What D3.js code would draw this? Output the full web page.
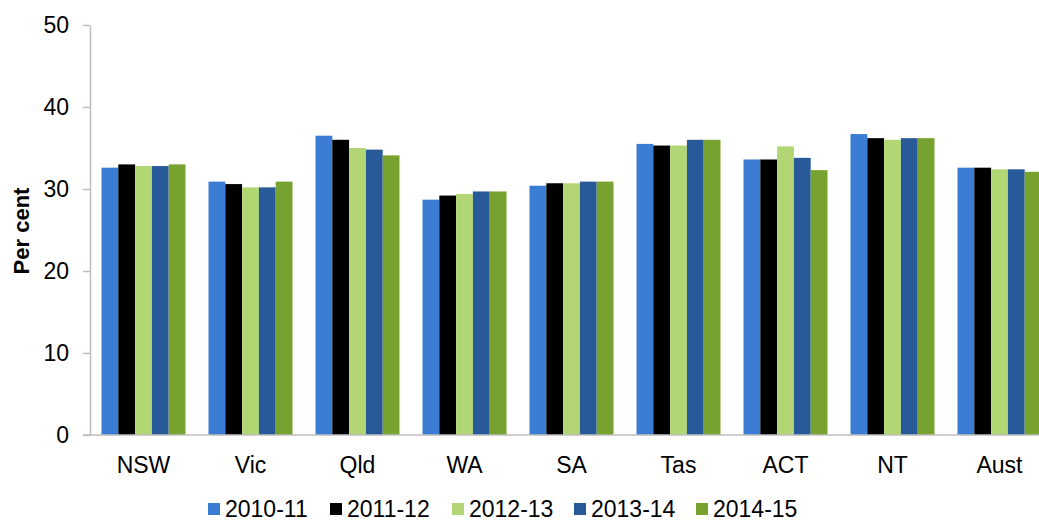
<!DOCTYPE html>
<head>
<title>Per cent by state, 2010-11 to 2014-15</title>
<script src="https://d3js.org/d3.v7.min.js"></script>
</head>

<style>
body { margin: 0; background: #fff; }
svg { display: block; font-family: "Liberation Sans", Arial, sans-serif; }
</style>

<body>
 <svg class="chart"></svg>
</body>

<script>

// chart data
var states = ["NSW", "Vic", "Qld", "WA", "SA", "Tas", "ACT", "NT", "Aust"];
var years = ["2010-11", "2011-12", "2012-13", "2013-14", "2014-15"];
var colours = ["#3B7DD4", "#000000", "#B3D675", "#285A9A", "#78A22F"];
var yTicks = [0, 10, 20, 30, 40, 50];

var v2010 = [32.6, 30.9, 36.5, 28.7, 30.4, 35.5, 33.6, 36.7, 32.6];
var v2011 = [33.0, 30.6, 36.0, 29.2, 30.7, 35.3, 33.6, 36.2, 32.6];
var v2012 = [32.8, 30.2, 35.0, 29.4, 30.7, 35.3, 35.2, 36.0, 32.4];
var v2013 = [32.8, 30.2, 34.8, 29.7, 30.9, 36.0, 33.8, 36.2, 32.4];
var v2014 = [33.0, 30.9, 34.1, 29.7, 30.9, 36.0, 32.3, 36.2, 32.1];

var series = [v2010, v2011, v2012, v2013, v2014];

//set up chart
var width = 1039;
var height = 521;
var plotLeft = 90, plotTop = 25, plotBottom = 435;
// plot area runs past the right edge, like the original picture
var plotRight = 1053;
var fontSize = "23px";

var chart = d3.select(".chart")
	.attr("width", width)
	.attr("height", height);

var xChart = d3.scaleBand()
	.domain(states)
	.range([plotLeft, plotRight])
	.paddingInner(0.215)
	.paddingOuter(0.1075);

var xSeries = d3.scaleBand()
	.domain(years)
	.range([0, xChart.bandwidth()]);

var yChart = d3.scaleLinear()
	.domain([0, 50])
	.range([plotBottom, plotTop]);

//bars
var rows = [];
states.forEach(function(s, i){
	years.forEach(function(y, j){
		rows.push({state: s, year: y, value: series[j][i], colour: colours[j]});
	});
});

chart.append("g")
	.selectAll("rect")
	.data(rows)
	.enter()
	.append("rect")
	.attr("x", function(d){ return xChart(d.state) + xSeries(d.year); })
	.attr("y", function(d){ return yChart(d.value); })
	.attr("width", xSeries.bandwidth())
	.attr("height", function(d){ return plotBottom - yChart(d.value); })
	.attr("fill", function(d){ return d.colour; });

//left axis
var yAxis = d3.axisLeft(yChart)
	.tickValues(yTicks)
	.tickSize(7)
	.tickPadding(14)
	.tickSizeOuter(0);

var yG = chart.append("g")
	.attr("transform", "translate(" + plotLeft + ",0)")
	.call(yAxis);
yG.select(".domain").attr("stroke", "#BFBFBF").attr("stroke-width", 1.5);
yG.selectAll(".tick line").attr("stroke", "#BFBFBF").attr("stroke-width", 1.5);
yG.selectAll(".tick text").attr("fill", "#000").style("font-size", fontSize);

//bottom axis
var xAxis = d3.axisBottom(xChart)
	.tickSize(0)
	.tickPadding(22)
	.tickSizeOuter(0);

var xG = chart.append("g")
	.attr("transform", "translate(0," + plotBottom + ")")
	.call(xAxis);
xG.select(".domain").attr("stroke", "#BFBFBF").attr("stroke-width", 1.5)
	.attr("d", "M" + (plotLeft - 7) + ",0H" + plotRight);
xG.selectAll(".tick text").attr("fill", "#000").style("font-size", fontSize);

// y label
chart.append("text")
	.attr("transform", "translate(29,231) rotate(-90)")
	.attr("text-anchor", "middle")
	.style("font-size", "22px")
	.style("font-weight", "bold")
	.text("Per cent");

// legend
var legendX = d3.scalePoint()
	.domain(years)
	.range([208, 696]);

var legend = chart.append("g")
	.selectAll("g")
	.data(years)
	.enter()
	.append("g")
	.attr("transform", function(d){ return "translate(" + legendX(d) + ",503)"; });

legend.append("rect")
	.attr("width", 12)
	.attr("height", 12)
	.attr("fill", function(d, i){ return colours[i]; });

legend.append("text")
	.attr("x", 17)
	.attr("y", 6)
	.attr("dy", "0.35em")
	.style("font-size", fontSize)
	.text(function(d){ return d; });

</script>
